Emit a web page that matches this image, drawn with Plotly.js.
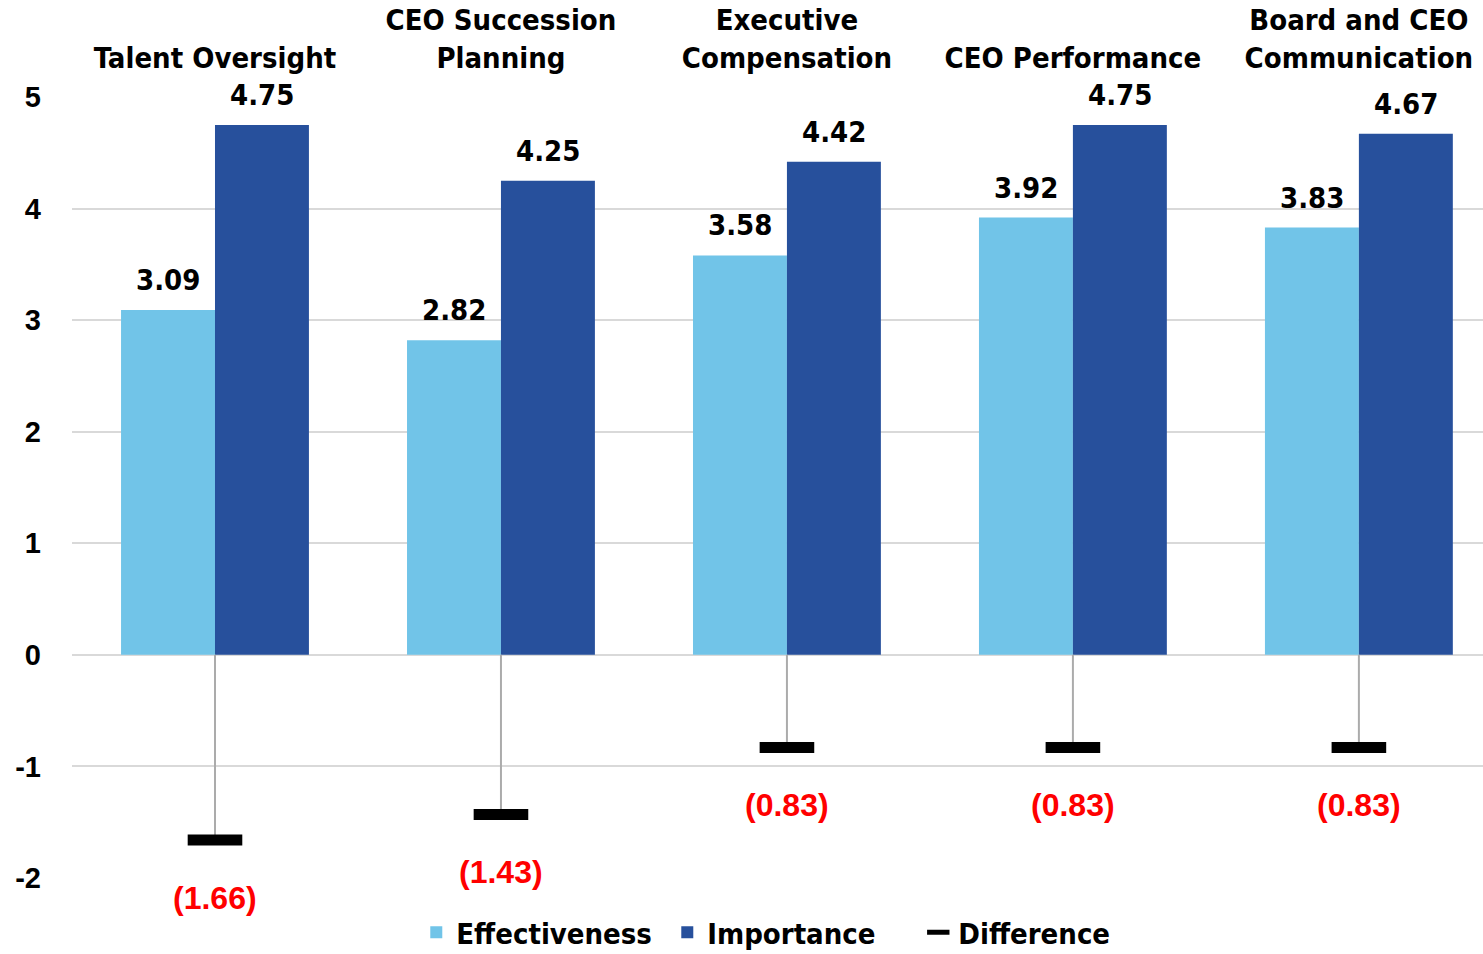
<!DOCTYPE html>
<html>
<head>
<meta charset="utf-8">
<script src="https://cdn.plot.ly/plotly-3.0.1.min.js"></script>
<style>
  html, body { margin: 0; padding: 0; background: #ffffff; }
  #chart { width: 1483px; height: 954px; }
</style>
</head>
<body>
<div id="chart"></div>
<script>
// Board survey: how effective vs. how important each area is rated
const categories = [
  "Talent Oversight",
  "CEO Succession<br>Planning",
  "Executive<br>Compensation",
  "CEO Performance",
  "Board and CEO<br>Communication"
];
const effectiveness = [3.09, 2.82, 3.58, 3.92, 3.83];
const importance    = [4.75, 4.25, 4.42, 4.75, 4.67];
const difference    = [-1.66, -1.43, -0.83, -0.83, -0.83];
const yTicks        = [-2, -1, 0, 1, 2, 3, 4, 5];

const FONT = "'DejaVu Sans Condensed', 'DejaVu Sans', sans-serif";
const ARIAL = "'Liberation Sans', Arial, sans-serif";

// plot geometry: category slot width and bar width in pixels
const PLOT_W = 1483 - 72;
const X_RANGE = [-0.5, 4.434];
const BARGAP = 0.343;
const slotPx = PLOT_W / (X_RANGE[1] - X_RANGE[0]);
const barPx = slotPx * (1 - BARGAP) / 2;

const traces = [
  {
    type: "bar",
    name: "Effectiveness",
    x: categories,
    y: effectiveness,
    marker: { color: "#71C4E8" },
    hoverinfo: "skip"
  },
  {
    type: "bar",
    name: "Importance",
    x: categories,
    y: importance,
    marker: { color: "#27509C" },
    hoverinfo: "skip"
  },
  {
    type: "scatter",
    mode: "markers",
    name: "Difference",
    x: categories,
    y: difference,
    marker: {
      symbol: "line-ew",
      size: 39,
      color: "#000000",
      line: { width: 11, color: "#000000" }
    },
    error_y: {
      type: "data",
      symmetric: false,
      array: difference.map(d => Math.abs(d)),
      arrayminus: difference.map(() => 0),
      color: "#ababab",
      thickness: 2,
      width: 0
    },
    cliponaxis: false,
    hoverinfo: "skip"
  }
];

// value labels above each bar
const valueLabel = (vals, side) => categories.map((c, i) => ({
  x: c,
  y: vals[i],
  xref: "x",
  yref: "y",
  text: vals[i].toFixed(2),
  showarrow: false,
  xanchor: "center",
  yanchor: "bottom",
  xshift: side * barPx / 2,
  yshift: 11,
  font: { family: FONT, size: 29, weight: "bold", color: "#000000" }
}));

// red "(x.xx)" labels under each difference marker
const diffLabels = categories.map((c, i) => ({
  x: c,
  y: difference[i],
  xref: "x",
  yref: "y",
  text: "(" + Math.abs(difference[i]).toFixed(2) + ")",
  showarrow: false,
  yanchor: "middle",
  yshift: -58,
  font: { family: ARIAL, size: 32, weight: "bold", color: "#ff0000" }
}));

const layout = {
  width: 1483,
  height: 954,
  margin: { l: 72, r: 0, t: 97, b: 76, autoexpand: false },
  paper_bgcolor: "#ffffff",
  plot_bgcolor: "#ffffff",
  barmode: "group",
  bargap: BARGAP,
  bargroupgap: 0,
  font: { family: FONT, size: 29, weight: "bold", color: "#000000" },
  xaxis: {
    type: "category",
    side: "top",
    range: X_RANGE,
    showgrid: false,
    showline: false,
    zeroline: false,
    ticks: "",
    ticklabelstandoff: 22,
    tickfont: { family: FONT, size: 29, weight: "bold", color: "#000000" }
  },
  yaxis: {
    range: [-2, 5],
    tickvals: yTicks,
    ticktext: yTicks.map(String),
    showgrid: true,
    gridcolor: "#d9d9d9",
    gridwidth: 2,
    zeroline: true,
    zerolinecolor: "#d9d9d9",
    zerolinewidth: 2,
    showline: false,
    ticks: "",
    ticklabelstandoff: 30,
    tickfont: { family: ARIAL, size: 29, weight: "bold", color: "#000000" }
  },
  showlegend: true,
  legend: {
    orientation: "h",
    x: 0.244,
    xanchor: "left",
    y: -0.037,
    yanchor: "top",
    font: { family: FONT, size: 29, weight: "bold", color: "#000000" },
    itemwidth: 30,
    entrywidth: 206,
    tracegroupgap: 0
  },
  annotations: valueLabel(effectiveness, -1)
    .concat(valueLabel(importance, 1))
    .concat(diffLabels)
};

Plotly.newPlot("chart", traces, layout, { displayModeBar: false, staticPlot: true });
</script>
</body>
</html>
